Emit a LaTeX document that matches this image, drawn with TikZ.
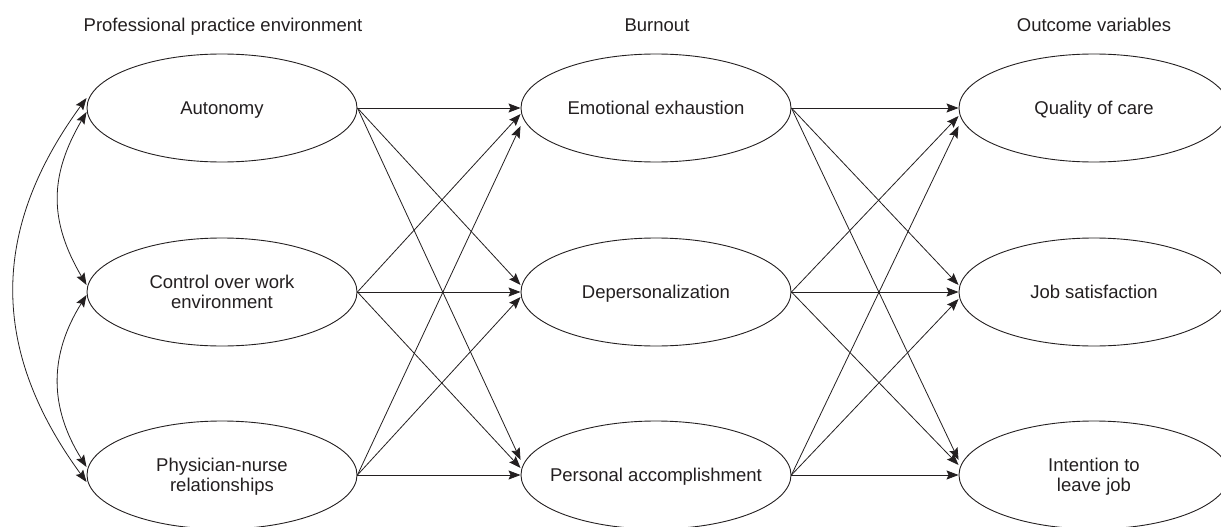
\documentclass[tikz,border=0pt]{standalone}
\usepackage{fontspec}
\setmainfont{Liberation Sans}
\usetikzlibrary{shapes.geometric,arrows.meta}
\definecolor{ink}{HTML}{231F20}
\begin{document}
\begin{tikzpicture}[x=1pt,y=-1pt,
  every node/.style={text=ink,font=\fontsize{18.5}{20}\selectfont},
  var/.style={ellipse,draw=ink,line width=0.9pt,minimum width=270pt,minimum height=108pt,inner xsep=-60pt,inner ysep=0pt,text depth=0pt,align=center},
  head/.style={anchor=base},
  path/.style={draw=ink,line width=0.8pt,-{Stealth[length=12pt,width=9pt,inset=2pt]}},
  cov/.style={draw=ink,line width=0.8pt,{Stealth[length=12pt,width=9pt,inset=2pt]}-{Stealth[length=12pt,width=9pt,inset=2pt]}}]
\useasboundingbox (0,0) rectangle (1221,527);
% headers
\node[head] (h1) at (223,32) {Professional practice environment};
\node[head] (h2) at (657,32) {Burnout};
\node[head] (h3) at (1094,32) {Outcome variables};
% nodes
\node[var] (L1) at (222,108) {Autonomy};
\node[var] (L2) at (222,292) {Control over work\\environment};
\node[var] (L3) at (222,475) {Physician-nurse\\relationships};
\node[var] (M1) at (656,108) {Emotional exhaustion};
\node[var] (M2) at (656,292) {Depersonalization};
\node[var] (M3) at (656,475) {Personal accomplishment};
\node[var] (R1) at (1094,108) {Quality of care};
\node[var] (R2) at (1094,292) {Job satisfaction};
\node[var] (R3) at (1094,475) {Intention to\\leave job};
% left to middle
\draw[path] (L1.east) -- (M1.west);
\draw[path] (L1.east) -- ([yshift=7pt]M2.west);
\draw[path] (L1.east) -- ([yshift=15pt]M3.west);
\draw[path] (L2.east) -- ([yshift=-6pt]M1.west);
\draw[path] (L2.east) -- (M2.west);
\draw[path] (L2.east) -- ([yshift=7pt]M3.west);
\draw[path] (L3.east) -- ([yshift=-18pt]M1.west);
\draw[path] (L3.east) -- ([yshift=-5pt]M2.west);
\draw[path] (L3.east) -- (M3.west);
% middle to right
\draw[path] (M1.east) -- (R1.west);
\draw[path] (M1.east) -- ([yshift=7pt]R2.west);
\draw[path] (M1.east) -- ([yshift=15pt]R3.west);
\draw[path] (M2.east) -- ([yshift=-8pt]R1.west);
\draw[path] (M2.east) -- (R2.west);
\draw[path] (M2.east) -- ([yshift=10pt]R3.west);
\draw[path] (M3.east) -- ([yshift=-18pt]R1.west);
\draw[path] (M3.east) -- ([yshift=-7pt]R2.west);
\draw[path] (M3.east) -- (R3.west);
% correlations
\draw[cov] ([yshift=10pt]L1.west) .. controls (-10,230) and (-10,350) .. ([yshift=-7pt]L3.west);
\draw[cov] ([yshift=-4pt]L1.west) .. controls (49,176) and (49,221) .. ([yshift=7pt]L2.west);
\draw[cov] ([yshift=-3pt]L2.west) .. controls (49,355) and (49,407) .. ([yshift=8pt]L3.west);
\end{tikzpicture}
\end{document}
